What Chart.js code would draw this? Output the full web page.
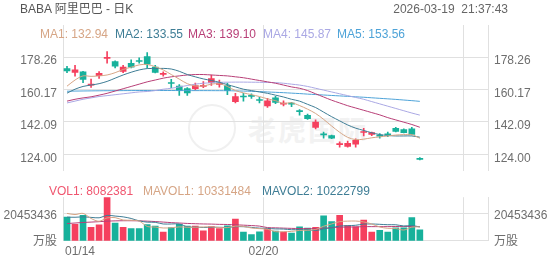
<!DOCTYPE html>
<html>
<head>
<meta charset="utf-8">
<script src="https://cdn.jsdelivr.net/npm/chart.js@4.4.1/dist/chart.umd.min.js"></script>
<style>
  html, body { margin: 0; padding: 0; background: #fff; }
  #wrap { position: relative; width: 552px; height: 265px; overflow: hidden;
          font-family: "Liberation Sans", Arial, "Noto Sans CJK SC", sans-serif; font-size: 12px; }
  .txt { position: absolute; white-space: nowrap; line-height: 14px; }
  canvas { position: absolute; left: 0; }
  #wmCircle { position: absolute; left: 188px; top: 104px; width: 44px; height: 44px;
              border: 2px solid #f0f0f0; border-radius: 50%; }
  #wmText { position: absolute; left: 248px; top: 113px; font-size: 28px; line-height: 32px;
            font-weight: bold; color: #f2f2f2; letter-spacing: 2px;
            font-family: "Noto Sans CJK SC", sans-serif; }
</style>
</head>
<body>
<div id="wrap">
  <div id="wmCircle"></div>
  <div id="wmText">老虎国际</div>
  <canvas id="priceChart" width="552" height="184" style="top:0"></canvas>
  <canvas id="volChart" width="552" height="81" style="top:184px"></canvas>
  <div class="txt" style="left:20px; top:2px; color:#555">BABA 阿里巴巴 - 日K</div>
  <div class="txt" style="right:44px; top:2px; color:#666">2026-03-19&nbsp;&nbsp;21:37:43</div>
  <div id="maLegend"></div>
  <div id="volLegend"></div>
</div>
<script>
// daily candles, 01/14 .. 03/19
const dates = ['01/14', '01/15', '01/16', '01/20', '01/21', '01/22', '01/23', '01/26', '01/27', '01/28',
  '01/29', '01/30', '02/02', '02/03', '02/04', '02/05', '02/06', '02/09', '02/10', '02/11',
  '02/12', '02/13', '02/17', '02/18', '02/19', '02/20', '02/23', '02/24', '02/25', '02/26',
  '02/27', '03/02', '03/03', '03/04', '03/05', '03/06', '03/09', '03/10', '03/11', '03/12',
  '03/13', '03/16', '03/17', '03/18', '03/19'];
const xTickLabels = ['01/14', '02/20'];

const open = [171.86, 169.71, 170.07, 162.65, 167.87, 177.59, 175.70, 170.22, 174.83, 176.31,
  178.62, 172.63, 168.64, 164.03, 162.03, 160.70, 160.70, 161.88, 163.93, 163.01,
  162.39, 153.33, 156.50, 156.86, 154.56, 150.98, 155.58, 152.00, 152.51, 148.31,
  145.76, 139.00, 135.37, 134.39, 129.38, 128.45, 129.63, 136.18, 135.11, 134.65,
  135.37, 138.49, 137.82, 138.18, 121.70];
const high = [173.14, 173.65, 170.30, 165.97, 170.22, 181.33, 176.21, 173.65, 176.72, 177.90,
  180.82, 173.65, 170.07, 165.82, 162.90, 161.21, 163.77, 164.59, 168.28, 165.46,
  163.77, 158.04, 158.04, 157.78, 155.74, 155.23, 156.40, 153.84, 153.02, 148.93,
  146.52, 143.30, 136.44, 134.75, 131.01, 131.32, 132.70, 138.49, 136.44, 135.62,
  136.44, 139.00, 138.18, 139.00, 122.21];
const low = [169.56, 167.66, 163.93, 161.37, 166.33, 174.83, 172.27, 169.56, 172.27, 174.83,
  172.27, 169.40, 167.66, 161.21, 156.91, 156.91, 159.83, 161.21, 162.39, 161.52,
  157.27, 152.67, 153.69, 155.23, 152.67, 150.11, 152.31, 150.98, 150.62, 145.86,
  143.45, 138.18, 133.06, 132.70, 127.94, 127.94, 127.94, 134.24, 134.39, 133.06,
  133.88, 136.44, 136.00, 134.75, 120.93];
const close = [170.58, 171.09, 165.82, 163.16, 169.20, 178.11, 173.14, 172.63, 172.63, 175.80,
  174.32, 169.71, 169.15, 163.52, 159.47, 158.30, 162.39, 162.39, 166.33, 163.52,
  159.47, 156.25, 155.99, 156.35, 154.05, 153.84, 153.02, 152.51, 152.00, 147.80,
  143.96, 141.92, 134.85, 133.06, 129.89, 130.14, 131.83, 136.70, 136.13, 134.13,
  134.85, 136.80, 136.13, 135.11, 121.19];

// moving average lines
const ma1 = [162.03, 165.46, 167.77, 167.51, 167.77, 168.28, 169.56, 171.35, 172.63, 173.91,
  174.16, 172.89, 171.09, 168.53, 165.97, 163.42, 162.14, 162.14, 163.16, 163.42,
  161.88, 159.58, 158.30, 157.27, 156.25, 154.97, 153.95, 152.41, 152.80, 151.20,
  149.20, 146.80, 143.50, 139.80, 136.30, 133.47, 132.19, 132.45, 133.21, 133.73,
  134.24, 134.75, 135.01, 135.01, 132.94];
const ma2 = [158.14, 160.34, 161.88, 162.65, 163.42, 164.70, 166.49, 168.28, 169.81, 171.09,
  171.86, 171.86, 171.96, 171.61, 170.33, 168.53, 167.25, 166.08, 165.21, 164.18,
  162.90, 161.62, 160.34, 159.58, 158.81, 158.04, 157.02, 155.99, 154.71, 153.69,
  151.90, 150.11, 147.55, 144.99, 142.68, 140.38, 138.59, 137.31, 136.03, 135.01,
  134.49, 134.24, 134.24, 134.24, 133.55];
const ma3 = [153.69, 154.71, 155.48, 156.10, 157.02, 158.04, 159.32, 160.60, 161.88, 163.16,
  164.44, 165.46, 166.49, 167.25, 167.77, 168.28, 168.53, 168.53, 168.28, 168.02,
  167.77, 167.25, 166.74, 165.97, 165.21, 164.44, 163.67, 162.65, 161.62, 160.86,
  159.58, 157.78, 155.99, 154.20, 152.67, 151.13, 149.85, 148.57, 147.29, 146.01,
  144.48, 143.20, 141.92, 140.64, 139.10];
const ma4 = [152.67, 153.69, 154.71, 155.48, 156.25, 156.76, 157.27, 157.78, 158.30, 158.81,
  159.06, 159.58, 160.34, 160.86, 161.62, 162.39, 163.16, 163.67, 163.93, 164.20,
  164.25, 164.30, 164.30, 164.25, 164.20, 164.10, 164.00, 163.67, 163.16, 162.65,
  161.88, 160.86, 159.83, 158.81, 157.78, 156.76, 155.74, 154.71, 153.43, 152.15,
  150.87, 149.59, 148.32, 147.04, 145.87];
const ma5 = [159.20, 159.30, 159.35, 159.40, 159.45, 159.50, 159.52, 159.55, 159.57, 159.60,
  159.60, 159.60, 159.60, 159.60, 159.58, 159.56, 159.55, 159.55, 159.53, 159.52,
  159.50, 159.40, 159.30, 159.15, 159.00, 158.80, 158.60, 158.40, 158.15, 157.90,
  157.60, 157.35, 157.10, 156.85, 156.60, 156.35, 156.10, 155.85, 155.55, 155.25,
  154.95, 154.65, 154.30, 153.95, 153.56];

const volume = [17620000, 12180000, 18930000, 9950000, 11850000, 32480000, 13200000, 10050000, 9010000, 8990000,
  12100000, 10880000, 6520000, 9800000, 12230000, 10900000, 10920000, 7380000, 10610000, 9030000,
  11120000, 16170000, 6510000, 4620000, 6600000, 8780000, 7100000, 6480000, 5730000, 10310000,
  9390000, 9960000, 18600000, 14280000, 18920000, 11290000, 10320000, 15310000, 6490000, 7720000,
  6520000, 9580000, 9620000, 17230000, 8082381];
const mavol1 = [20400000, 19500000, 20400000, 16600000, 14500000, 17000000, 17240000, 15460000, 15270000, 14700000,
  10660000, 10200000, 9500000, 9660000, 10300000, 10060000, 10060000, 10240000, 10400000, 9760000,
  9800000, 10860000, 10680000, 9480000, 9000000, 8540000, 6720000, 6720000, 6940000, 7680000,
  7800000, 8370000, 10790000, 12510000, 14230000, 14610000, 14680000, 14020000, 12460000, 10220000,
  9260000, 9120000, 7980000, 10120000, 10331484];
const mavol2 = [17600000, 17500000, 17800000, 17400000, 17100000, 18900000, 18400000, 17800000, 16600000, 14800000,
  13850000, 13720000, 12480000, 12470000, 12500000, 10360000, 10130000, 9870000, 10030000, 10030000,
  9930000, 10460000, 10460000, 9940000, 9380000, 9170000, 8790000, 8700000, 8210000, 8340000,
  8170000, 7550000, 8760000, 9730000, 10960000, 11200000, 11530000, 12400000, 12490000, 12230000,
  11940000, 11900000, 11000000, 11290000, 10222799];
const mavol3 = [12800000, 13200000, 13600000, 13900000, 14200000, 14600000, 14800000, 14900000, 14900000, 14800000,
  14600000, 14300000, 13900000, 13500000, 13200000, 12900000, 12700000, 12500000, 12400000, 12200000,
  12100000, 11900000, 11600000, 11300000, 10900000, 9800000, 9600000, 9400000, 9200000, 9100000,
  9050000, 9100000, 9400000, 9700000, 10000000, 10200000, 10300000, 10500000, 10500000, 10500000,
  10500000, 10600000, 10500000, 10700000, 10580000];

const priceTicks = [124.00, 142.09, 160.17, 178.26];
const volTick = 20453436;

// looks
const family = '"Liberation Sans", Arial, "Noto Sans CJK SC", sans-serif';
const gridColor = '#e0e0e0';
const none = 'rgba(0,0,0,0)';
const labelColor = '#6e6e6e';
const upColor = '#f5405e';
const downColor = '#17b19b';
const maColors = ['#d6a585', '#3e7d95', '#b83f77', '#aaa8e4', '#4ea3d8'];
const emptySlots = 8;

const slots = dates.concat(Array(emptySlots).fill(''));
const barColors = close.map((c, i) => c >= open[i] ? upColor : downColor);

// legends
const maList = [ma1, ma2, ma3, ma4, ma5];
const maLeft = [40, 115, 188, 263, 337];
document.getElementById('maLegend').innerHTML = maList.map((m, i) =>
  `<div class="txt" style="left:${maLeft[i]}px; top:27px; color:${maColors[i]}">MA${i + 1}: ${m[m.length - 1].toFixed(2)}</div>`
).join('');
const volItems = [
  ['VOL1: ' + volume[volume.length - 1], '#f0566f', 49],
  ['MAVOL1: ' + mavol1[mavol1.length - 1], maColors[0], 143],
  ['MAVOL2: ' + mavol2[mavol2.length - 1], maColors[1], 262]
];
document.getElementById('volLegend').innerHTML = volItems.map(v =>
  `<div class="txt" style="left:${v[2]}px; top:184px; color:${v[1]}">${v[0]}</div>`
).join('');

function xAxis(showBorder) {
  return {
    type: 'category',
    labels: slots,
    offset: true,
    grid: {
      offset: true,
      drawTicks: false,
      color: ctx => (ctx.index > 0 && ctx.index % 25 === 0) ? gridColor : none
    },
    ticks: { display: false },
    border: { display: showBorder, color: gridColor }
  };
}

function yAxis(side, min, max, ticks, fmt, gridFn, labelOffset) {
  return {
    position: side,
    min: min,
    max: max,
    afterFit: s => { s.width = side === 'left' ? 63 : 64; },
    afterBuildTicks: s => { s.ticks = ticks.map(v => ({ value: v })); },
    ticks: {
      callback: fmt,
      color: labelColor,
      font: { family: family, size: 12 },
      padding: 6,
      labelOffset: labelOffset
    },
    grid: {
      drawTicks: false,
      drawOnChartArea: side === 'left',
      color: gridFn
    },
    border: { color: gridColor }
  };
}

const line = (data, color) => ({
  type: 'line', data: data, borderColor: color, borderWidth: 1,
  pointRadius: 0, tension: 0.3, fill: false, order: 0
});

// price panel
new Chart(document.getElementById('priceChart'), {
  type: 'bar',
  data: {
    datasets: [
      line(ma1, maColors[0]), line(ma2, maColors[1]), line(ma3, maColors[2]),
      line(ma4, maColors[3]), line(ma5, maColors[4]),
      {
        data: open.map((o, i) => [o, close[i]]),
        backgroundColor: barColors, barThickness: 6, minBarLength: 1,
        grouped: false, order: 1
      },
      {
        data: low.map((l, i) => [l, high[i]]),
        backgroundColor: barColors, barThickness: 1,
        grouped: false, order: 2
      }
    ]
  },
  options: {
    responsive: false,
    animation: false,
    layout: { padding: { top: 25, bottom: 0, left: 0, right: 0 }, autoPadding: false },
    plugins: { legend: { display: false }, tooltip: { enabled: false } },
    scales: {
      x: xAxis(false),
      y: yAxis('left', 114.79, 196.18, priceTicks, v => v.toFixed(2), () => gridColor, 4),
      y2: yAxis('right', 114.79, 196.18, priceTicks, v => v.toFixed(2), () => gridColor, 4)
    }
  }
});

// date labels under the volume panel
const dateLabels = {
  id: 'dateLabels',
  afterDraw(chart) {
    const { ctx, chartArea, scales } = chart;
    const x = scales.x;
    const slotW = x.getPixelForValue(1) - x.getPixelForValue(0);
    ctx.save();
    ctx.font = '12px ' + family;
    ctx.fillStyle = labelColor;
    ctx.textAlign = 'center';
    ctx.textBaseline = 'middle';
    xTickLabels.forEach(lbl => {
      const w = ctx.measureText(lbl).width;
      let px = x.getPixelForValue(dates.indexOf(lbl)) - slotW / 2;
      if (px - w / 2 < chartArea.left) px = chartArea.left + 2 + w / 2;
      ctx.fillText(lbl, px, chartArea.bottom + 11);
    });
    ctx.restore();
  }
};

// volume panel
const volTicks = [1260000, volTick];
const volFmt = (v, i) => i === 0 ? '万股' : String(volTick);
const volGrid = ctx => (ctx.tick && ctx.tick.value === volTick) ? gridColor : none;

new Chart(document.getElementById('volChart'), {
  type: 'bar',
  data: {
    datasets: [
      line(mavol1, maColors[0]), line(mavol2, maColors[1]), line(mavol3, maColors[2]),
      {
        data: volume, backgroundColor: barColors, barThickness: 6,
        grouped: false, order: 1
      }
    ]
  },
  options: {
    responsive: false,
    animation: false,
    layout: { padding: { top: 0, bottom: 24.3, left: 0, right: 0 }, autoPadding: false },
    plugins: { legend: { display: false }, tooltip: { enabled: false } },
    scales: {
      x: xAxis(true),
      y: yAxis('left', 0, Math.max(...volume), volTicks, volFmt, volGrid, 2.5),
      y2: yAxis('right', 0, Math.max(...volume), volTicks, volFmt, volGrid, 2.5)
    }
  },
  plugins: [dateLabels]
});
</script>
</body>
</html>
